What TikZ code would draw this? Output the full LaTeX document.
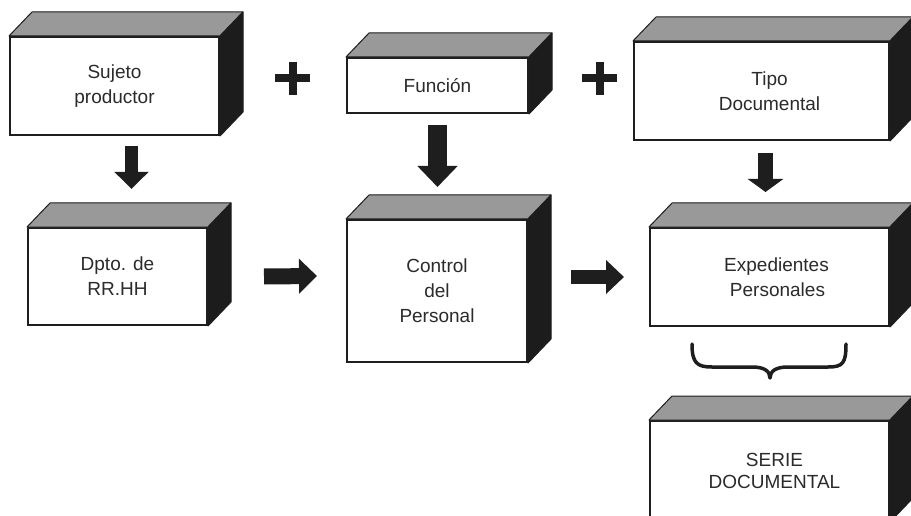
\documentclass[tikz,border=0pt]{standalone}
\usepackage{fontspec}
\setmainfont{Liberation Sans}
\usetikzlibrary{arrows.meta,calc}
\definecolor{topg}{HTML}{999999}
\definecolor{sideg}{HTML}{1C1C1C}
\definecolor{ink}{HTML}{1E1E1E}
\definecolor{txt}{HTML}{2B2B2B}
\newcommand\cubefaces[1]{%
  \filldraw[fill=topg,draw=ink,line width=1pt,line join=round] (#1.north west) -- ++(23,-24) -- ($(#1.north east)+(23,-24)$) -- (#1.north east) -- cycle;
  \filldraw[fill=sideg,draw=ink,line width=1pt,line join=round] (#1.north east) -- ++(23,-24) -- ($(#1.south east)+(23,-24)$) -- (#1.south east) -- cycle;
}
\begin{document}
\begin{tikzpicture}[x=1pt,y=-1pt,
  box/.style={draw=ink,line width=2pt,fill=white,inner sep=0pt,align=center,text=txt,font=\fontsize{19}{25}\selectfont},
  blkarrow/.style={draw=ink,line cap=butt}]
\useasboundingbox (0,0) rectangle (911,516);
\clip (0,0) rectangle (911,516);
\fill[white] (0,0) rectangle (911,516);
% boxes
\node[box,minimum width=209pt,minimum height=98pt] (suj) at (114.5,86) {Sujeto\\productor};
\node[box,minimum width=181pt,minimum height=55pt] (fun) at (437.5,85.5) {Función};
\node[box,minimum width=255pt,minimum height=98pt] (tipo) at (761.5,91) {\hspace*{16pt}Tipo\\\hspace*{16pt}Documental};
\node[box,minimum width=179pt,minimum height=97pt] (dpto) at (117.5,276.5) {Dpto. de\\RR.HH};
\node[box,minimum width=180pt,minimum height=142pt] (ctrl) at (437,291) {Control\\del\\Personal};
\node[box,minimum width=239pt,minimum height=98pt] (exp) at (769.5,277) {\hspace*{14pt}Expedientes\\\hspace*{16pt}Personales};
\node[box,minimum width=239pt,minimum height=100pt,font=\fontsize{19}{22}\selectfont] (serie) at (769.5,471) {\hspace*{10pt}SERIE\\\hspace*{10pt}DOCUMENTAL};
\cubefaces{suj}
\cubefaces{fun}
\cubefaces{tipo}
\cubefaces{dpto}
\cubefaces{ctrl}
\cubefaces{exp}
\cubefaces{serie}
% plus signs
\draw[ink,line width=8pt] (275,78) -- (310,78) (292.5,62) -- (292.5,95);
\draw[ink,line width=8pt] (582,78) -- (617,78) (599.5,62) -- (599.5,95);
% block arrows
\draw[blkarrow,line width=13pt,-{Triangle[length=17pt,width=33pt]}] ($(suj.south)+(17,10)$) -- ($(dpto.north)+(14,-38)$);
\draw[blkarrow,line width=19pt,-{Triangle[length=21pt,width=39pt]}] ($(fun.south)+(0,11)$) -- ($(ctrl.north)+(0.5,-32)$);
\draw[blkarrow,line width=15pt,-{Triangle[length=13pt,width=35pt]}] ($(tipo.south)+(4,12)$) -- ($(exp.north)+(-4,-35)$);
\draw[blkarrow,line width=16pt,-{Triangle[length=18pt,width=34pt]}] ($(dpto.east)+(56,0)$) -- ($(ctrl.west)+(-29,-15)$);
\draw[blkarrow,line width=14pt,-{Triangle[length=18pt,width=33pt]}] ($(ctrl.east)+(43,-14)$) -- ($(exp.west)+(-25,0)$);
% brace
\draw[ink,line width=3.5pt,line cap=round,line join=round]
  ($(exp.south west)+(43,17)$) .. controls +(0,19) and (697,367) .. (712,367) -- (752,367)
  .. controls (764,367) and (770,371) .. (770,378)
  .. controls (770,371) and (776,367) .. (788,367) -- (828,367)
  .. controls (843,367) and ($(exp.south west)+(197,36)$) .. ($(exp.south west)+(197,17)$);
\end{tikzpicture}
\end{document}
